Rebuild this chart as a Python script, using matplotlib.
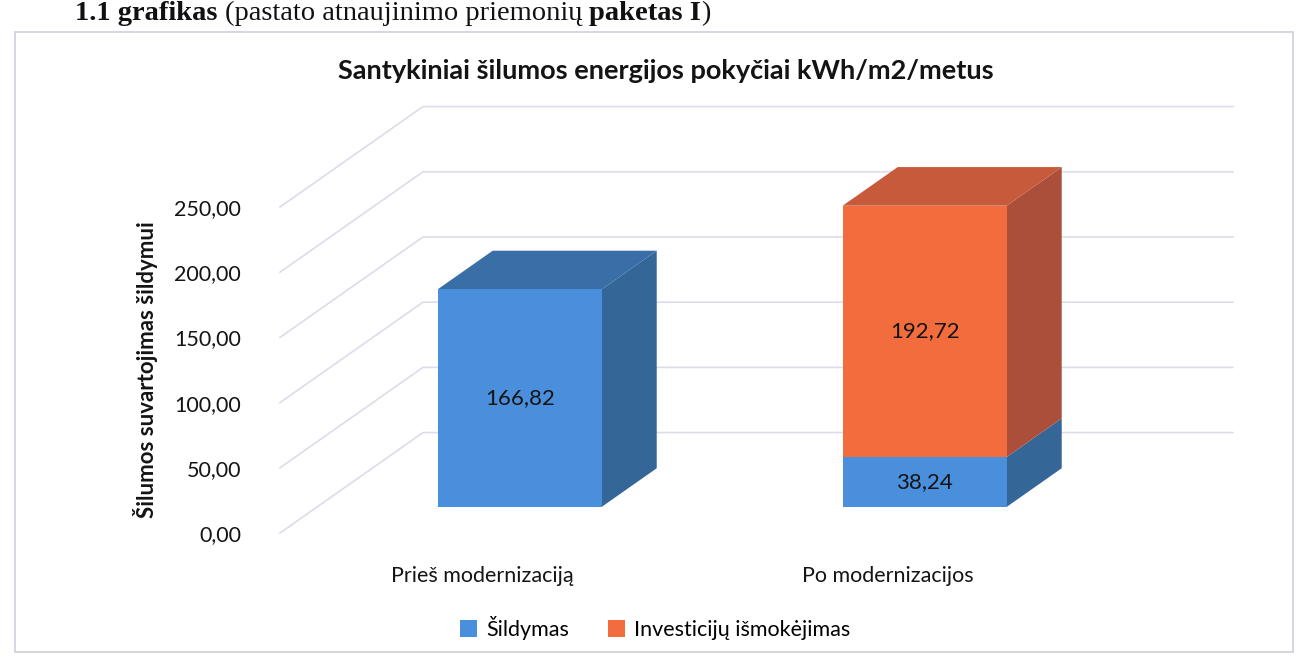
import numpy as np
import matplotlib.pyplot as plt
from matplotlib.patches import Polygon, Rectangle, Patch

# data
categories = ['Prieš modernizaciją', 'Po modernizacijos']
sildymas = [166.82, 38.24]
investicijos = [0.0, 192.72]
series_names = ['Šildymas', 'Investicijų išmokėjimas']
yticks = [0, 50, 100, 150, 200, 250]
header = [('1.1 grafikas ', 'bold'), ('(pastato atnaujinimo priemonių ', 'normal'),
          ('paketas I', 'bold'), (')', 'normal')]

# colours (front, top, side)
blue = ('#4a8fdc', '#3a6ea6', '#356698')
orange = ('#f26c3e', '#c85a3c', '#ac4f3a')
gridc = '#dcdcea'
txtc = '#141414'

plt.rcParams['font.family'] = ['Lato', 'DejaVu Sans']

fig = plt.figure(figsize=(12.98, 6.69), dpi=100)
W, H = 1298, 669

# chart border
fig.add_artist(Rectangle((15 / W, 1 - 652 / H), 1278 / W, 620 / H, transform=fig.transFigure,
                         fill=False, edgecolor='#cfcfdc', lw=1.2))

# header line of the document, pieces put one after the other
renderer = fig.canvas.get_renderer()
xpos = 75
for txt, wt in header:
    t = fig.text(xpos / W, 1 - 1 / H, txt, family='Liberation Serif', weight=wt, fontsize=20.5,
                 va='top', color='#111111')
    xpos += t.get_window_extent(renderer).width

# front plane of the chart
ax = fig.add_axes([280 / W, 1 - 533 / H, 810 / W, 326 / H])
ax.set_xlim(-0.5, 1.5)
ax.set_ylim(0, 250)
for s in ax.spines.values():
    s.set_visible(False)

DX, DY = 0.353, 77.0  # full depth offset in data units


def proj(x, v, d):
    return (x + d * DX, v + d * DY)


# gridlines: side wall and back wall
for v in yticks:
    p0 = proj(-0.5, v, 0)
    p1 = proj(-0.5, v, 1)
    p2 = proj(1.5, v, 1)
    ax.plot([p0[0], p1[0], p2[0]], [p0[1], p1[1], p2[1]], color=gridc, lw=1.2, clip_on=False, zorder=1)

# 3D bars
d0, d1 = 0.26, 0.645
bw = 0.405


def box(xc, lo, hi, cols, top=True):
    xl, xr = xc - bw / 2, xc + bw / 2
    side = [proj(xr, lo, d0), proj(xr, lo, d1), proj(xr, hi, d1), proj(xr, hi, d0)]
    ax.add_patch(Polygon(side, closed=True, facecolor=cols[2], edgecolor='none', clip_on=False, zorder=2))
    if top:
        tp = [proj(xl, hi, d0), proj(xl, hi, d1), proj(xr, hi, d1), proj(xr, hi, d0)]
        ax.add_patch(Polygon(tp, closed=True, facecolor=cols[1], edgecolor='none', clip_on=False, zorder=2))
    fr = [proj(xl, lo, d0), proj(xr, lo, d0), proj(xr, hi, d0), proj(xl, hi, d0)]
    ax.add_patch(Polygon(fr, closed=True, facecolor=cols[0], edgecolor='none', clip_on=False, zorder=3))


for i in range(len(categories)):
    s = sildymas[i]
    inv = investicijos[i]
    box(i, 0, s, blue, top=(inv == 0))
    cx, cy = proj(i, s / 2, d0)
    ax.text(cx, cy, f'{s:.2f}'.replace('.', ','), ha='center', va='center', fontsize=16,
            color=txtc, zorder=4)
    if inv > 0:
        box(i, s, s + inv, orange, top=True)
        cx, cy = proj(i, s + inv / 2, d0)
        ax.text(cx, cy, f'{inv:.2f}'.replace('.', ','), ha='center', va='center', fontsize=16,
                color=txtc, zorder=4)

ax.set_yticks(yticks)
ax.set_yticklabels([f'{v:.2f}'.replace('.', ',') for v in yticks], fontsize=15.5, color=txtc)
ax.set_xticks(range(len(categories)))
ax.set_xticklabels(categories, fontsize=15.5, color=txtc)
ax.tick_params(axis='both', length=0)
ax.tick_params(axis='y', pad=28)
ax.tick_params(axis='x', pad=24)
ax.set_ylabel('Šilumos suvartojimas šildymui', fontsize=16, weight='bold', color=txtc, labelpad=12)

fig.text(666 / W, 1 - 71 / H, 'Santykiniai šilumos energijos pokyčiai kWh/m2/metus', ha='center', va='center',
         fontsize=19.5, weight='bold', color=txtc)

handles = [Patch(facecolor=blue[0]), Patch(facecolor=orange[0])]
fig.legend(handles, series_names, loc='center', bbox_to_anchor=(655 / W, 1 - 628 / H), ncol=2, frameon=False,
           fontsize=15.5, handlelength=0.8, handleheight=0.8, handletextpad=0.4, columnspacing=1.8)

fig.savefig('out.png', dpi=100)
